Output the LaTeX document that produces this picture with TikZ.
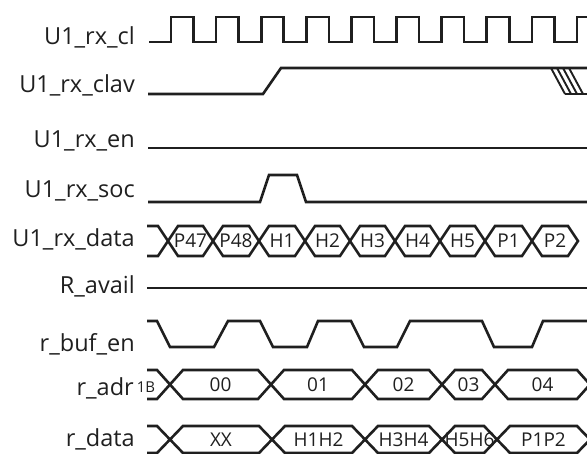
\documentclass[tikz,border=0pt]{standalone}
\usepackage{fontspec}
\setmainfont{Open Sans}
\newcommand\hexseg[7]{%
  \draw[sig] (#4,#1) -- ({#4+#3},{#1-#2}) -- ({#5-#3},{#1-#2}) -- (#5,#1) -- ({#5-#3},{#1+#2}) -- ({#4+#3},{#1+#2}) -- cycle;
  \node[bl] (#6) at ({(#4+#5)/2},#1) {#7};}
\newcommand\busstart[4]{% y, h, d, crossing
  \draw[sig] (147,{#1-#2}) -- ({#4-#3},{#1-#2}) -- (#4,#1) -- ({#4-#3},{#1+#2}) -- (147,{#1+#2});}
\begin{document}
\begin{tikzpicture}[x=1pt,y=-1pt,
  sig/.style={line width=2.6pt, line join=miter, color=black!88},
  hatch/.style={line width=1.9pt, color=black!88},
  lbl/.style={anchor=base east, inner sep=0pt, text=black!88, font=\fontsize{23.5}{23.5}\selectfont},
  bl/.style={inner sep=0pt, text=black!88, font=\fontsize{19}{19}\selectfont}]
\useasboundingbox (0,0) rectangle (587,454);
\clip (0,0) rectangle (587,454);
% labels
\node[lbl] (l1) at (135,45) {U1\_rx\_cl};
\node[lbl] (l2) at (135,93) {U1\_rx\_clav};
\node[lbl] (l3) at (135,148) {U1\_rx\_en};
\node[lbl] (l4) at (135,198) {U1\_rx\_soc};
\node[lbl] (l5) at (135,247) {U1\_rx\_data};
\node[lbl] (l6) at (135,294) {R\_avail};
\node[lbl] (l7) at (135,352) {r\_buf\_en};
\node[lbl] (l8) at (134,396) {r\_adr};
\node[lbl] (l9) at (135,447) {r\_data};
\node[inner sep=0pt, text=black!88, font=\fontsize{15}{15}\selectfont] (l8b) at (146,387) {1B};
% clock
\draw[sig] (149,42) \foreach \k in {0,...,9} { -- ({171+45.1*\k},42) -- ({171+45.1*\k},17) -- ({193.5+45.1*\k},17) -- ({193.5+45.1*\k},42) };
% clav
\draw[sig] (148,94) -- (263,94) -- (281,68) -- (600,68);
\draw[sig] (565,94) -- (600,94);
\foreach \o in {0,6,12,18} \draw[hatch] ({551+\o},68) -- ({565+\o},94);
% en
\draw[sig] (148,148) -- (600,148);
% soc
\draw[sig] (148,202) -- (260,202) -- (269,175) -- (297,175) -- (306,202) -- (600,202);
% rx data
\busstart{241}{15}{10}{168}
\hexseg{241}{15}{10}{168}{213}{d1}{P47}
\hexseg{241}{15}{10}{213}{259}{d2}{P48}
\hexseg{241}{15}{10}{259}{305}{d3}{H1}
\hexseg{241}{15}{10}{305}{350}{d4}{H2}
\hexseg{241}{15}{10}{350}{395}{d5}{H3}
\hexseg{241}{15}{10}{395}{440}{d6}{H4}
\hexseg{241}{15}{10}{440}{485}{d7}{H5}
\hexseg{241}{15}{10}{485}{532}{d8}{P1}
\hexseg{241}{15}{10}{532}{578}{d9}{P2}
% R_avail
\draw[sig] (147,288) -- (600,288);
% r_buf_en
\draw[sig] (147,321) -- (157,321) -- (170,347) -- (214,347) -- (228,321) -- (260,321) -- (273,347) -- (307,347) -- (318,321) -- (351,321) -- (364,347) -- (397,347) -- (410,321) -- (482,321) -- (494,347) -- (532,347) -- (543,321) -- (600,321);
% r_adr
\busstart{384.5}{14.5}{13}{170}
\hexseg{384.5}{14.5}{13}{170}{271}{a1}{00}
\hexseg{384.5}{14.5}{13}{271}{365}{a2}{01}
\hexseg{384.5}{14.5}{13}{365}{442}{a3}{02}
\hexseg{384.5}{14.5}{13}{442}{495}{a4}{03}
\hexseg{384.5}{14.5}{13}{495}{590}{a5}{04}
% r_data
\busstart{439.5}{13.5}{13}{170}
\hexseg{439.5}{13.5}{13}{170}{272}{r1}{XX}
\hexseg{439.5}{13.5}{13}{272}{365}{r2}{H1H2}
\hexseg{439.5}{13.5}{13}{365}{442}{r3}{H3H4}
\hexseg{439.5}{13.5}{13}{442}{497}{r4}{H5H6}
\hexseg{439.5}{13.5}{13}{497}{590}{r5}{P1P2}
\end{tikzpicture}
\end{document}
